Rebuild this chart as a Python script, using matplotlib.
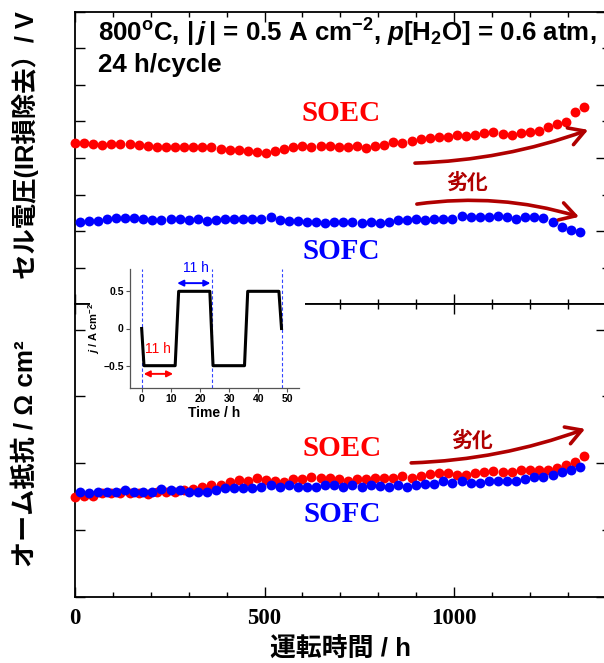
import matplotlib
matplotlib.use('Agg')
import matplotlib.pyplot as plt
from matplotlib.ticker import MultipleLocator, FixedLocator, NullFormatter
from matplotlib.patches import Rectangle

plt.rcParams['mathtext.fontset'] = 'custom'
plt.rcParams['mathtext.rm'] = 'Liberation Sans:bold'
plt.rcParams['mathtext.it'] = 'Liberation Sans:italic:bold'
plt.rcParams['mathtext.bf'] = 'Liberation Sans:bold'

# ---------------- data ----------------
soec_t = [0, 24, 48, 72, 96, 120, 144, 168, 192, 216, 240, 264, 288, 312, 336, 360,
          384, 408, 432, 456, 480, 504, 528, 552, 576, 600, 624, 648, 672, 696, 720,
          744, 768, 792, 816, 840, 864, 888, 912, 936, 960, 984, 1008, 1032, 1056,
          1080, 1104, 1128, 1152, 1176, 1200, 1224, 1248, 1272, 1296, 1320, 1344]
sofc_t = [12, 36, 60, 84, 108, 132, 156, 180, 204, 228, 252, 276, 300, 324, 348, 372,
          396, 420, 444, 468, 492, 516, 540, 564, 588, 612, 636, 660, 684, 708, 732,
          756, 780, 804, 828, 852, 876, 900, 924, 948, 972, 996, 1020, 1044, 1068,
          1092, 1116, 1140, 1164, 1188, 1212, 1236, 1260, 1284, 1308, 1332]

# IR-free cell voltage / V
soec_v = [1.040, 1.040, 1.037, 1.036, 1.038, 1.038, 1.038, 1.036, 1.033, 1.030,
          1.029, 1.031, 1.031, 1.031, 1.030, 1.029, 1.025, 1.022, 1.021, 1.018,
          1.016, 1.015, 1.019, 1.025, 1.029, 1.033, 1.031, 1.034, 1.033, 1.031,
          1.030, 1.033, 1.026, 1.034, 1.036, 1.044, 1.041, 1.046, 1.052, 1.055,
          1.057, 1.057, 1.063, 1.060, 1.063, 1.068, 1.071, 1.066, 1.063, 1.068,
          1.071, 1.074, 1.085, 1.093, 1.098, 1.126, 1.139]
sofc_v = [0.826, 0.828, 0.828, 0.832, 0.837, 0.837, 0.835, 0.833, 0.830, 0.830,
          0.832, 0.832, 0.830, 0.832, 0.829, 0.830, 0.832, 0.832, 0.833, 0.834,
          0.834, 0.840, 0.830, 0.829, 0.828, 0.826, 0.824, 0.823, 0.824, 0.825,
          0.824, 0.823, 0.824, 0.823, 0.826, 0.830, 0.830, 0.833, 0.830, 0.832,
          0.833, 0.833, 0.841, 0.838, 0.840, 0.838, 0.841, 0.838, 0.833, 0.840,
          0.838, 0.835, 0.824, 0.812, 0.803, 0.798]

# ohmic resistance / ohm cm2
soec_r = [0.1745, 0.1757, 0.1755, 0.1775, 0.1775, 0.1775, 0.1775, 0.1775, 0.1770, 0.1787,
          0.1787, 0.1787, 0.1800, 0.1807, 0.1825, 0.1837, 0.1837, 0.1862, 0.1875, 0.1867,
          0.1888, 0.1873, 0.1866, 0.1861, 0.1879, 0.1883, 0.1896, 0.1886, 0.1891, 0.1879,
          0.1867, 0.1879, 0.1879, 0.1891, 0.1891, 0.1891, 0.1903, 0.1891, 0.1903, 0.1916,
          0.1925, 0.1930, 0.1912, 0.1912, 0.1925, 0.1937, 0.1945, 0.1933, 0.1933, 0.1950,
          0.1950, 0.1950, 0.1950, 0.1963, 0.1987, 0.2012, 0.2055]
sofc_r = [0.1787, 0.1775, 0.1787, 0.1787, 0.1787, 0.1800, 0.1787, 0.1787, 0.1787, 0.1805,
          0.1800, 0.1800, 0.1787, 0.1787, 0.1787, 0.1800, 0.1813, 0.1813, 0.1813, 0.1813,
          0.1825, 0.1840, 0.1821, 0.1836, 0.1821, 0.1821, 0.1821, 0.1840, 0.1836, 0.1823,
          0.1836, 0.1823, 0.1840, 0.1832, 0.1821, 0.1840, 0.1821, 0.1840, 0.1846, 0.1846,
          0.1870, 0.1855, 0.1870, 0.1855, 0.1855, 0.1870, 0.1870, 0.1870, 0.1870, 0.1882,
          0.1895, 0.1895, 0.1912, 0.1937, 0.1950, 0.1975]

# inset: current profile
profile_t = [0, 0.8, 11.5, 12.7, 23.4, 24.5, 35.3, 36.4, 47.1, 48]
profile_j = [0, -0.5, -0.5, 0.5, 0.5, -0.5, -0.5, 0.5, 0.5, 0]
cycle_marks = [0, 24, 48]

xtick_labels = ['0', '500', '1000']

RED = '#FF0000'
BLUE = '#0000FF'
DARKRED = '#B00000'
JP = ['Liberation Sans', 'Noto Sans CJK JP']

W, H = 604, 663
fig = plt.figure(figsize=(W / 100, H / 100), dpi=100)

left = 75 / W
width = 530.6 / W
ax1 = fig.add_axes([left, 1 - 304.3 / H, width, 292.6 / H])
ax2 = fig.add_axes([left, 1 - 596.7 / H, width, 292.4 / H])

for ax in (ax1, ax2):
    ax.set_xlim(0, 1400)
    ax.xaxis.set_major_locator(FixedLocator([0, 500, 1000]))
    ax.xaxis.set_minor_locator(MultipleLocator(100))
    for s in ax.spines.values():
        s.set_linewidth(1.3)
    ax.tick_params(axis='x', which='both', direction='in', top=True, bottom=True,
                   width=1.0)
    ax.tick_params(axis='x', which='major', length=7.5)
    ax.tick_params(axis='x', which='minor', length=3.5)
    ax.tick_params(axis='y', which='both', direction='in', left=True, right=False,
                   labelleft=False, length=7, width=1.0)

ax1.set_ylim(0.6, 1.4)
ax1.yaxis.set_major_locator(MultipleLocator(0.1))
ax1.tick_params(axis='x', labelbottom=False)
ax2.set_ylim(0.1, 0.319)
ax2.yaxis.set_major_locator(MultipleLocator(0.05))

for ax, maj, mnr in ((ax1, 0.2, 0.1), (ax2, 0.1, 0.05)):
    sec = ax.secondary_yaxis('right')
    sec.yaxis.set_major_locator(MultipleLocator(maj))
    sec.yaxis.set_minor_locator(MultipleLocator(mnr))
    sec.yaxis.set_major_formatter(NullFormatter())
    sec.yaxis.set_minor_formatter(NullFormatter())
    sec.tick_params(which='both', direction='in', width=1.0)
    sec.tick_params(which='major', length=7)
    sec.tick_params(which='minor', length=3)
    sec.spines['right'].set_linewidth(1.3)

ax2.set_xticks([0, 500, 1000])
ax2.set_xticklabels(xtick_labels, family='Liberation Serif', fontweight='bold',
                    fontsize=16.5)
ax2.tick_params(axis='x', which='major', pad=8)

ms = 7.1
ax1.plot(soec_t, soec_v, 'o', color=RED, ms=ms, mew=0, clip_on=False, zorder=3)
ax1.plot(sofc_t, sofc_v, 'o', color=BLUE, ms=ms, mew=0, clip_on=False, zorder=3)
ax2.plot(soec_t, soec_r, 'o', color=RED, ms=ms, mew=0, clip_on=False, zorder=3)
ax2.plot(sofc_t, sofc_r, 'o', color=BLUE, ms=ms, mew=0, clip_on=False, zorder=4)

# series labels
ser = dict(family='Liberation Serif', fontweight='bold', fontsize=21,
           ha='center', va='center')
ax1.text(702, 1.123, 'SOEC', color=RED, **ser)
ax1.text(702, 0.743, 'SOFC', color=BLUE, **ser)
ax2.text(705, 0.2107, 'SOEC', color=RED, **ser)
ax2.text(705, 0.1612, 'SOFC', color=BLUE, **ser)

deg = dict(family='Noto Sans CJK JP', fontweight='bold', fontsize=15,
           color=DARKRED, ha='center', va='center')
ax1.text(1034, 0.933, '劣化', **deg)
ax2.text(1047, 0.2175, '劣化', **deg)

def arrow(ax, start, end, rad):
    ax.annotate('', xy=end, xytext=start,
                arrowprops=dict(arrowstyle='->,head_length=0.55,head_width=0.32',
                                color=DARKRED, lw=2.6, mutation_scale=20,
                                shrinkA=0, shrinkB=0,
                                connectionstyle=f'arc3,rad={rad}'))

arrow(ax1, (897, 0.986), (1354, 1.077), 0.08)
arrow(ax1, (902, 0.874), (1330, 0.839), -0.11)
arrow(ax2, (887, 0.2002), (1346, 0.2257), 0.08)

# header text
fig.text(98 / W, 1 - 42 / H,
         r'800$^{\mathrm{o}}$C, $|\,\mathit{j}\,|$ = 0.5 A cm$^{\mathrm{-2}}$, '
         r'$\mathit{p}$[H$_{\mathrm{2}}$O] = 0.6 atm,',
         family='Liberation Sans', fontweight='bold', fontsize=18.6, va='baseline')
fig.text(98 / W, 1 - 72 / H, '24 h/cycle', family='Liberation Sans',
         fontweight='bold', fontsize=18.6, va='baseline')

# axis labels
fig.text(26 / W, 1 - 145 / H, 'セル電圧(IR損除去）/ V', rotation=90, ha='center',
         va='center', family=JP, fontweight='bold', fontsize=18.3)
fig.text(26 / W, 1 - 454 / H, 'オーム抵抗 / Ω cm²', rotation=90, ha='center',
         va='center', family=JP, fontweight='bold', fontsize=18.8)
fig.text(340 / W, 1 - 650 / H, '運転時間 / h', ha='center', va='center',
         family=JP, fontweight='bold', fontsize=18.6)

# white backing for inset
rect = Rectangle((90 / W, 1 - 422 / H), 215 / W, 164 / H, transform=fig.transFigure,
                 facecolor='white', edgecolor='none', zorder=1)
fig.patches.append(rect)

axin = fig.add_axes([130 / W, 1 - 388 / H, 169 / W, 119 / H])
axin.set_zorder(2)
axin.set_xlim(-4, 54)
axin.set_ylim(-0.8, 0.8)
axin.spines['top'].set_visible(False)
axin.spines['right'].set_visible(False)
for s in ('left', 'bottom'):
    axin.spines[s].set_color('#555555')
    axin.spines[s].set_linewidth(0.9)
axin.set_xticks([0, 10, 20, 30, 40, 50])
axin.set_yticks([-0.5, 0, 0.5])
axin.set_yticklabels(['\u22120.5', '0', '0.5'])
axin.tick_params(which='both', direction='out', length=3, width=0.8, pad=1.5,
                 labelsize=7.5, color='#555555')
for lab in axin.get_xticklabels() + axin.get_yticklabels():
    lab.set_fontweight('bold')
    lab.set_family('Liberation Sans')
for t in cycle_marks:
    axin.axvline(t, color='#3344FF', lw=0.8, ls=(0, (3, 2)))
axin.plot(profile_t, profile_j, color='black', lw=2.2)
axin.annotate('', xy=(23.6, 0.61), xytext=(12.2, 0.61),
              arrowprops=dict(arrowstyle='<|-|>', color=BLUE, lw=1.4,
                              mutation_scale=9, shrinkA=0, shrinkB=0))
axin.annotate('', xy=(10.8, -0.61), xytext=(0.7, -0.61),
              arrowprops=dict(arrowstyle='<|-|>', color=RED, lw=1.4,
                              mutation_scale=9, shrinkA=0, shrinkB=0))
axin.text(18.6, 0.81, '11 h', color=BLUE, fontsize=10, family='Liberation Sans',
          ha='center', va='center')
axin.text(5.7, -0.28, '11 h', color=RED, fontsize=10, family='Liberation Sans',
          ha='center', va='center')
axin.set_xlabel('Time / h', fontsize=10, fontweight='bold', family='Liberation Sans',
                labelpad=1)
axin.set_ylabel(r'$\mathit{j}$ / A cm$^{-2}$', fontsize=8, fontweight='bold',
                family='Liberation Sans', labelpad=1)

fig.savefig('out.png', dpi=100)
